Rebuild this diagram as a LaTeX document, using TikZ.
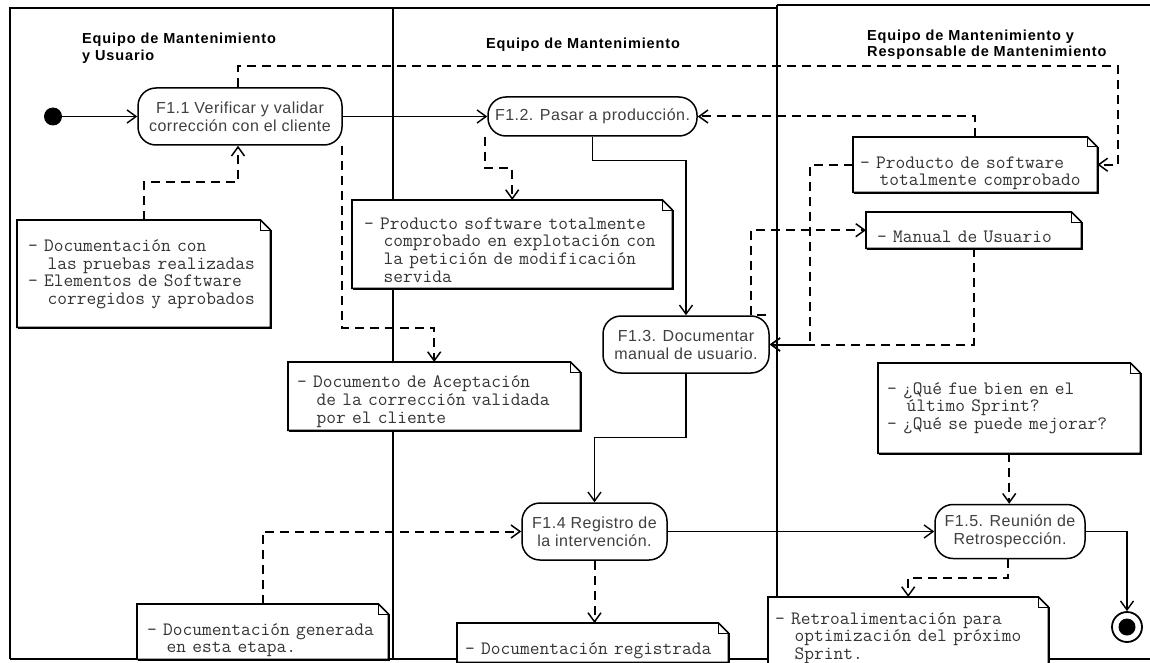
\documentclass[tikz,border=0pt]{standalone}
\usepackage{fontspec}
\setmainfont{Liberation Sans}
\newfontfamily\actfont{Liberation Sans}[LetterSpace=3]
\newfontfamily\headfont{Liberation Sans}[LetterSpace=6]
\usetikzlibrary{arrows.meta}

\tikzset{
  frameline/.style={line width=2pt},
  laneline/.style={line width=2.6pt},
  act/.style={draw, line width=1.5pt, rounded corners=18pt, fill=white,
    font=\actfont\fontsize{16}{18}\selectfont, text=black!75, align=center, inner sep=0pt},
  head/.style={font=\headfont\bfseries\fontsize{14.5}{16.5}\selectfont, align=left, inner sep=0pt},
  flow/.style={line width=1.4pt, -{Straight Barb[length=9pt,width=13pt]}},
  dflow/.style={line width=2pt, dash pattern=on 9pt off 6pt,
    -{Straight Barb[length=9pt,width=13pt,line width=1.5pt]}},
  note/.style={fill=white, anchor=north west, inner ysep=0pt,
    font=\ttfamily\fontsize{18.9}{17.7}\selectfont, text=black!80, align=left},
  noteline/.style={line width=1.6pt},
}

% UML note with folded corner:
% {name}{x1}{y1}{x2}{y2}{left margin}{first-line strut}{text}
\newcommand\umlbox[8]{%
  \pgfmathsetlengthmacro\nbW{(#4-#2)*1pt}%
  \pgfmathsetlengthmacro\nbH{(#5-#3)*1pt}%
  \pgfmathsetlengthmacro\nbT{(#4-#2-2*#6)*1pt}%
  \node[note, minimum width=\nbW, minimum height=\nbH, text width=\nbT, inner xsep=#6pt] (#1) at (#2,#3)
    {\rule{0pt}{#7pt}#8};
  \draw[noteline] (#1.north west) -- ([xshift=-10pt]#1.north east) -- ([yshift=-10pt]#1.north east)
    -- (#1.south east) -- (#1.south west) -- cycle;
  \draw[line width=1pt] ([xshift=-10pt]#1.north east) |- ([yshift=-10pt]#1.north east);
  \draw[line width=1.2pt] ([shift={(1pt,-10pt)}]#1.north east) -- ([shift={(1pt,-1pt)}]#1.south east)
    -- ([shift={(1pt,-1pt)}]#1.south west);
}

\begin{document}
\begin{tikzpicture}[x=1pt, y=-1pt]
\useasboundingbox (0,0) rectangle (1150,663);
\fill[white] (0,0) rectangle (1150,663);

% swimlane frame
\draw[frameline] (10,659) -- (10,8) -- (777,8);
\draw[frameline] (777,5) -- (1152,5);
\draw[frameline] (10,659) -- (1152,659);
\draw[laneline] (393,8) -- (393,659);
\draw[laneline] (777,5) -- (777,659);

% lane titles
\node[head, anchor=west] (h1) at (82,48.5) {Equipo de Mantenimiento\\y Usuario};
\node[head] (h2) at (583,45) {Equipo de Mantenimiento};
\node[head, anchor=west] (h3) at (867,45) {Equipo de Mantenimiento y\\Responsable de Mantenimiento};

% start / end
\node[circle, fill=black, minimum size=18pt, inner sep=0pt] (start) at (53,116.5) {};
\node[circle, draw, line width=1.8pt, fill=white, minimum size=30pt, inner sep=0pt] (end) at (1127,627) {};
\node[circle, fill=black, minimum size=17pt, inner sep=0pt] (endin) at (end.center) {};

% activities
\node[act, minimum width=204pt, minimum height=57pt] (F11) at (240,116.5) {F1.1 Verificar y validar\\corrección con el cliente};
\node[act, minimum width=209pt, minimum height=39pt] (F12) at (592.5,116.5) {F1.2. Pasar a producción.};
\node[act, minimum width=166pt, minimum height=57pt] (F13) at (686,344.5) {F1.3. Documentar\\manual de usuario.};
\node[act, minimum width=145pt, minimum height=57pt] (F14) at (594.5,531.5) {F1.4 Registro de\\la intervención.};
\node[act, minimum width=150pt, minimum height=54pt] (F15) at (1010,531.5) {F1.5. Reunión de\\Retrospección.};

% notes
\umlbox{N1}{17}{220}{270}{327}{11}{13}{- Documentación con\\\phantom{xx}las pruebas realizadas\\- Elementos de Software\\\phantom{xx}corregidos y aprobados}
\umlbox{N2}{352}{200}{672}{288}{12}{23}{- Producto software totalmente\\\phantom{xx}comprobado en explotación con\\\phantom{xx}la petición de modificación\\\phantom{xx}servida}
\umlbox{N3}{853}{137}{1097}{192}{7}{29}{- Producto de software\\\phantom{xx}totalmente comprobado}
\umlbox{N4}{288}{362}{580}{430}{9}{23}{- Documento de Aceptación\\\phantom{xx}de la corrección validada\\\phantom{xx}por el cliente}
\umlbox{N5}{866}{212}{1081}{248}{11}{25}{- Manual de Usuario}
\umlbox{N6}{878}{363}{1140}{453}{9}{11}{- ¿Qué fue bien en el\\\phantom{xx}último Sprint?\\- ¿Qué se puede mejorar?}
\umlbox{N7}{137}{604}{388}{659}{10}{29}{- Documentación generada\\\phantom{xx}en esta etapa.}
\umlbox{N8}{457}{623}{728}{662}{8}{27}{- Documentación registrada}
\umlbox{N9}{768}{597}{1048}{676}{7}{15}{\fontsize{18.9}{17.2}\selectfont - Retroalimentación para\\\phantom{xx}optimización del próximo\\\phantom{xx}Sprint.}

% control flow
\draw[flow] (start) -- (F11);
\draw[flow] (F11) -- (F12);
\draw[flow] (F12.south) -- ++(0,24) -| (F13.north);
\draw[flow] (F13.south) -- ++(0,64) -| (F14.north);
\draw[flow] (F14) -- (F15);
\draw[flow] (F15.east) -| (end.north);

% object flow
\draw[dflow] ([xshift=-2pt]F11.north) -- ++(0,-21) -| ([xshift=21pt]N3.east) -- (N3.east);
\draw[dflow] (N1.north) -- ++(0,-38) -| ([xshift=-2pt]F11.south);
\draw[dflow] ([xshift=-1pt]F11.south east) -- ++(0,182) -| (N4.north);
\draw[dflow] ([xshift=-2pt]F12.south west) -- ++(0,31) -| (N2.north);
\draw[dflow] (N3.north) |- (F12.east);
\draw[dflow] (N3.west) -- ++(-43,0) |- (F13.east);
\draw[dflow] (N5.south) |- (F13.east);
\draw[dflow] ([xshift=-4pt]F13.north east) -- ++(-15,0) |- (N5.west);
\draw[dflow] (N7.north) |- (F14.west);
\draw[dflow] (F14.south) -- (F14.south |- N8.north);
\draw[dflow] (N6.south) -- (N6.south |- F15.north);
\draw[dflow] ([xshift=-2pt]F15.south) -- ++(0,19) -| (N9.north);
\end{tikzpicture}
\end{document}
